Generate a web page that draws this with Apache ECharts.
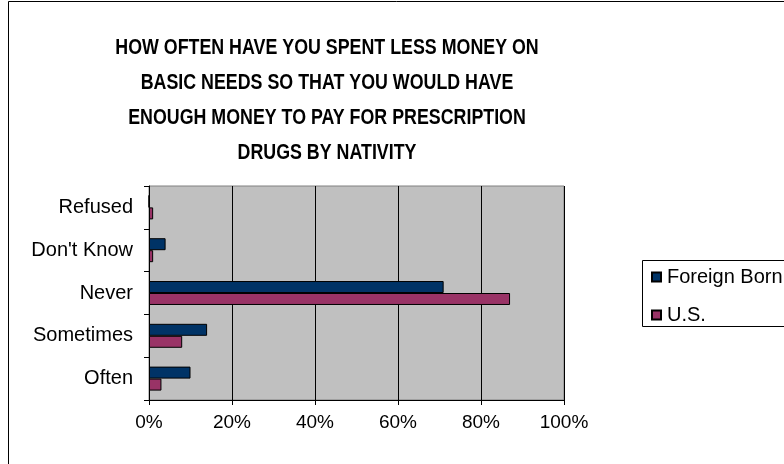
<!DOCTYPE html>
<html>
<head>
<meta charset="utf-8">
<script src="https://cdn.jsdelivr.net/npm/echarts@6/dist/echarts.min.js"></script>
<style>
  html, body { margin: 0; padding: 0; background: #fff; }
  #chart { width: 784px; height: 464px; }
</style>
</head>
<body>
<div id="chart"></div>
<script>
var categories = ['Often', 'Sometimes', 'Never', "Don't Know", 'Refused'];
var foreignBorn = [10, 14, 71, 4, 0];
var usBorn = [3, 8, 87, 1, 1];
var xTicks = [0, 20, 40, 60, 80, 100];
var titleText = 'HOW OFTEN HAVE YOU SPENT LESS MONEY ON\nBASIC NEEDS SO THAT YOU WOULD HAVE\nENOUGH MONEY TO PAY FOR PRESCRIPTION\nDRUGS BY NATIVITY';

var chart = echarts.init(document.getElementById('chart'));
var font = 'Arial, "Liberation Sans", sans-serif';

var option = {
    animation: false,
    backgroundColor: '#fff',
    legend: {
        data: ['Foreign Born', 'U.S.'],
        orient: 'vertical',
        left: 646,
        top: 262,
        itemWidth: 9,
        itemHeight: 9,
        itemGap: 18,
        icon: 'rect',
        textStyle: { fontFamily: font, fontSize: 20, color: '#000', padding: [0, 0, 0, 1] }
    },
    grid: {
        left: 149,
        top: 186,
        right: 220,
        bottom: 64,
        show: true,
        backgroundColor: '#c0c0c0',
        borderColor: '#808080',
        borderWidth: 1
    },
    xAxis: {
        type: 'value',
        min: xTicks[0],
        max: xTicks[xTicks.length - 1],
        interval: 20,
        axisLine: { show: true, lineStyle: { color: '#000' } },
        axisTick: { show: true, inside: false, length: 5, lineStyle: { color: '#000' } },
        splitLine: { show: true, lineStyle: { color: '#000' } },
        axisLabel: {
            formatter: '{value}%',
            fontFamily: font,
            fontSize: 19,
            color: '#000',
            margin: 13
        }
    },
    yAxis: {
        type: 'category',
        data: categories,
        axisLine: { show: true, lineStyle: { color: '#000' } },
        axisTick: { show: true, length: 5, lineStyle: { color: '#000' } },
        axisLabel: { fontFamily: font, fontSize: 20, color: '#000', margin: 16 }
    },
    series: [
        {
            name: 'Foreign Born',
            type: 'bar',
            data: foreignBorn,
            barGap: '0%',
            barCategoryGap: '44%',
            itemStyle: { color: '#003366', borderColor: '#000', borderWidth: 1 }
        },
        {
            name: 'U.S.',
            type: 'bar',
            data: usBorn,
            itemStyle: { color: '#993366', borderColor: '#000', borderWidth: 1 }
        }
    ],
    graphic: [
        {
            // title is condensed like the original, so draw it as scaled text
            type: 'text',
            x: 327,
            y: 30,
            scaleX: 0.81,
            silent: true,
            style: {
                text: titleText,
                font: 'bold 22px Arial, "Liberation Sans", sans-serif',
                fill: '#000',
                align: 'center',
                lineHeight: 35
            }
        },
        {
            type: 'rect',
            shape: { x: 8.5, y: 1.5, width: 800, height: 470 },
            style: { fill: 'none', stroke: '#000', lineWidth: 1 },
            silent: true
        },
        {
            type: 'rect',
            shape: { x: 642.5, y: 260.5, width: 160, height: 66 },
            style: { fill: 'none', stroke: '#000', lineWidth: 1 },
            silent: true
        }
    ]
};
chart.setOption(option);

window.onresize = chart.resize;
</script>
</body>
</html>
